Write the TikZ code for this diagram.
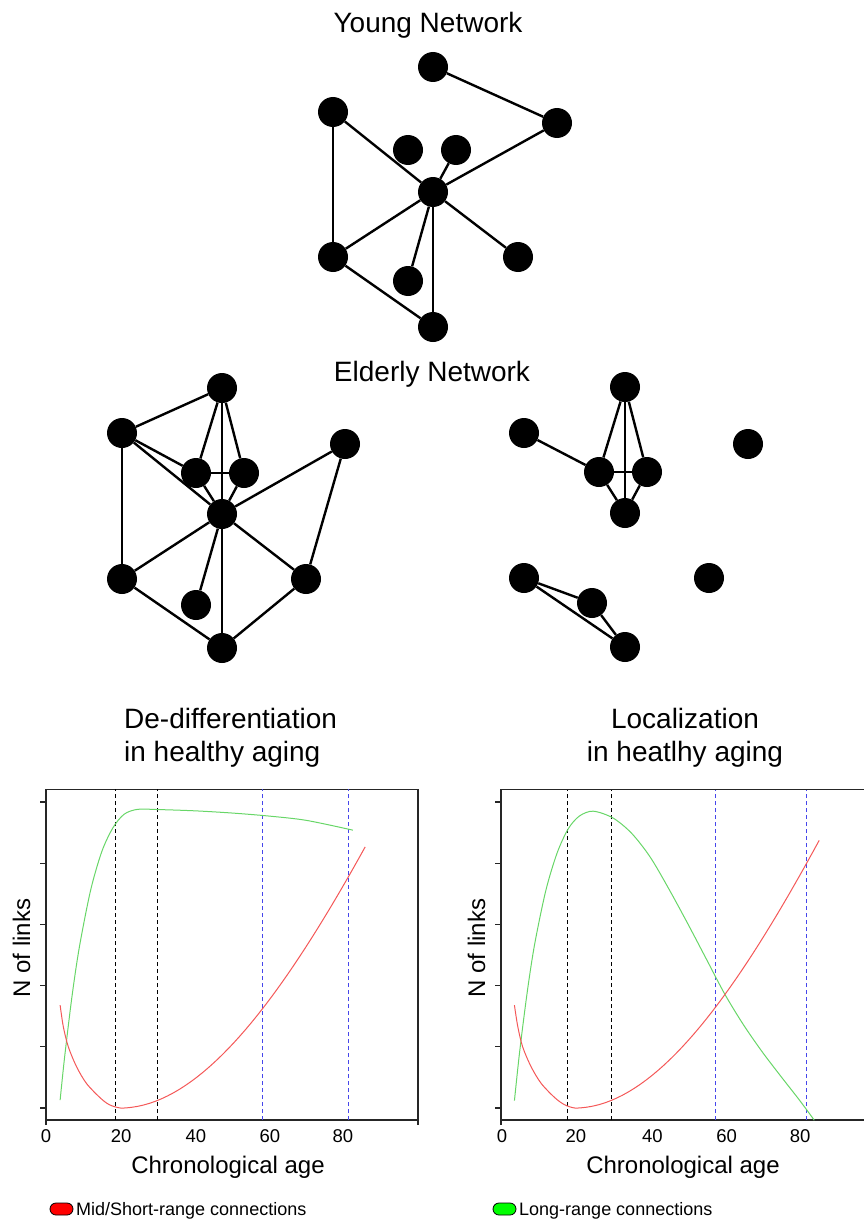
\documentclass[tikz,border=0pt]{standalone}
\usepackage{fontspec}
\setmainfont{Liberation Sans}
\usetikzlibrary{positioning}
\definecolor{shortred}{RGB}{244,88,88}
\definecolor{longgreen}{RGB}{104,214,104}
\definecolor{markblue}{RGB}{70,70,235}

\begin{document}
\begin{tikzpicture}[x=1pt,y=1pt]
\tikzstyle{every node}+=[inner sep=0pt]
\tikzstyle{vertex}=[circle,fill=black,minimum size=30pt]
\tikzstyle{edge}=[line width=2.4pt]
\tikzstyle{title}=[font=\fontsize{28}{33}\selectfont]
\tikzstyle{axislabel}=[font=\fontsize{24}{28}\selectfont]
\tikzstyle{ticklabel}=[font=\fontsize{18.5}{22}\selectfont]
\tikzstyle{keytext}=[font=\fontsize{18}{21}\selectfont]
\tikzstyle{frame}=[line width=1.3pt,black!85]
\tikzstyle{agemark}=[dash pattern=on 4pt off 3pt,line width=0.9pt]
\tikzstyle{shortrange}=[line width=1pt,shortred]
\tikzstyle{longrange}=[line width=1pt,longgreen]
\tikzstyle{pill}=[draw=black,line width=0.8pt,rounded corners=6pt,minimum width=23pt,minimum height=12pt]
\useasboundingbox (0,0) rectangle (864,-1220);

\node [title,anchor=base] (youngtitle) at (428,-33) {Young Network};
\node [vertex] (y1) at (433,-67) {};
\node [vertex] (y2) at (557,-123) {};
\node [vertex] (y3) at (333,-112) {};
\node [vertex] (y4) at (408,-150) {};
\node [vertex] (y5) at (456,-150) {};
\node [vertex] (y6) at (433,-192) {};
\node [vertex] (y7) at (333,-257) {};
\node [vertex] (y8) at (408,-281) {};
\node [vertex] (y9) at (518,-257) {};
\node [vertex] (y10) at (433,-327) {};
\draw [edge] (y1) -- (y2);
\draw [edge] (y2) -- (y6);
\draw [edge] (y3) -- (y6);
\draw [edge] (y3) -- (y7);
\draw [edge] (y5) -- (y6);
\draw [edge] (y6) -- (y7);
\draw [edge] (y6) -- (y8);
\draw [edge] (y6) -- (y9);
\draw [edge] (y6) -- (y10);
\draw [edge] (y7) -- (y10);

\node [title,anchor=base] (elderlytitle) at (432,-381) {Elderly Network};
\node [vertex] (e1) at (222,-388) {};
\node [vertex] (e2) at (122,-433) {};
\node [vertex] (e3) at (196,-473) {};
\node [vertex] (e4) at (244,-473) {};
\node [vertex] (e5) at (222,-514) {};
\node [vertex] (e6) at (345,-444) {};
\node [vertex] (e7) at (122,-579) {};
\node [vertex] (e8) at (196,-605) {};
\node [vertex] (e9) at (306,-579) {};
\node [vertex] (e10) at (222,-648) {};
\draw [edge] (e1) -- (e2);
\draw [edge] (e1) -- (e3);
\draw [edge] (e1) -- (e4);
\draw [edge] (e1) -- (e5);
\draw [edge] (e2) -- (e3);
\draw [edge] (e2) -- (e5);
\draw [edge] (e2) -- (e7);
\draw [edge] (e3) -- (e4);
\draw [edge] (e3) -- (e5);
\draw [edge] (e4) -- (e5);
\draw [edge] (e5) -- (e6);
\draw [edge] (e5) -- (e7);
\draw [edge] (e5) -- (e8);
\draw [edge] (e5) -- (e9);
\draw [edge] (e5) -- (e10);
\draw [edge] (e6) -- (e9);
\draw [edge] (e7) -- (e10);
\draw [edge] (e9) -- (e10);

\node [vertex] (l1) at (625,-387) {};
\node [vertex] (l2) at (524,-433) {};
\node [vertex] (l3) at (599,-472) {};
\node [vertex] (l4) at (647,-472) {};
\node [vertex] (l5) at (625,-513) {};
\node [vertex] (l6) at (748,-444) {};
\node [vertex] (l7) at (524,-578) {};
\node [vertex] (l8) at (592,-603) {};
\node [vertex] (l9) at (709,-578) {};
\node [vertex] (l10) at (625,-647) {};
\draw [edge] (l1) -- (l3);
\draw [edge] (l1) -- (l4);
\draw [edge] (l1) -- (l5);
\draw [edge] (l2) -- (l3);
\draw [edge] (l3) -- (l4);
\draw [edge] (l3) -- (l5);
\draw [edge] (l4) -- (l5);
\draw [edge] (l7) -- (l8);
\draw [edge] (l7) -- (l10);
\draw [edge] (l8) -- (l10);

\node [title,anchor=north west,align=left] (dedifftitle) at (124,-708) {De-differentiation\\in healthy aging};
\node [title,anchor=north,align=center] (localtitle) at (685,-708) {Localization\\in heatlhy aging};

% left panel: age 0..100 on x, links 0..5 on y
\begin{scope}[shift={(46,-1108)},x=3.72pt,y=61.2pt]
\draw [frame] (0,-0.28) -- (0,5.21) -- (100,5.21) -- (100,-0.28);
\draw [frame] (0,-0.196) -- (100,-0.196);
\draw [frame] (0,0) -- (-1.6,0);
\draw [frame] (0,1) -- (-1.6,1);
\draw [frame] (0,2) -- (-1.6,2);
\draw [frame] (0,3) -- (-1.6,3);
\draw [frame] (0,4) -- (-1.6,4);
\draw [frame] (0,5) -- (-1.6,5);
\draw [agemark,black] (18.6,-0.196) -- (18.6,5.21);
\draw [agemark,black] (30,-0.196) -- (30,5.21);
\draw [agemark,markblue] (58.3,-0.196) -- (58.3,5.21);
\draw [agemark,markblue] (81.3,-0.196) -- (81.3,5.21);
\draw [longrange] plot [smooth] coordinates {(3.8,0.13) (5,0.83) (7,1.83) (9,2.64) (12,3.56) (15,4.19) (18,4.58) (21,4.80) (24.6,4.88) (30,4.877) (40,4.856) (50,4.82) (60,4.77) (70,4.70) (82.5,4.54)};
% u = (age-20)/10 keeps the cubic inside pgfmath's range
\draw [shortrange] plot [smooth] coordinates {(3.8,1.68) (4.65,1.33) (6,1.0) (8.25,0.67) (10.9,0.40) (14.5,0.17) (17,0.055) (20,0) (23,0.0115)}
  -- plot [domain=23:85.8,samples=40] (\x,{((\x-20)/10)^2*(0.12865-0.004576*(\x-20)/10)});
\node [ticklabel,anchor=base] (lx0) at (0,-0.556) {0};
\node [ticklabel,anchor=base] (lx20) at (20.2,-0.556) {20};
\node [ticklabel,anchor=base] (lx40) at (40.3,-0.556) {40};
\node [ticklabel,anchor=base] (lx60) at (60.2,-0.556) {60};
\node [ticklabel,anchor=base] (lx80) at (79.8,-0.556) {80};
\end{scope}
\node [axislabel,anchor=base] (lxlabel) at (228,-1173) {Chronological age};
\node [axislabel,anchor=base,rotate=90] (lylabel) at (30,-948) {N of links};

% right panel, same axes
\begin{scope}[shift={(501,-1108)},x=3.73pt,y=61.2pt]
\draw [frame] (97.5,5.2) -- (0,5.2) -- (0,-0.28);
\draw [frame] (0,-0.196) -- (97.5,-0.196);
\draw [frame] (0,0) -- (-1.6,0);
\draw [frame] (0,1) -- (-1.6,1);
\draw [frame] (0,2) -- (-1.6,2);
\draw [frame] (0,3) -- (-1.6,3);
\draw [frame] (0,4) -- (-1.6,4);
\draw [frame] (0,5) -- (-1.6,5);
\draw [agemark,black] (17.7,-0.196) -- (17.7,5.2);
\draw [agemark,black] (29.5,-0.196) -- (29.5,5.2);
\draw [agemark,markblue] (57.6,-0.196) -- (57.6,5.2);
\draw [agemark,markblue] (81.8,-0.196) -- (81.8,5.2);
\draw [longrange] plot [smooth] coordinates {(3.6,0.12) (5,0.92) (7,1.88) (9,2.67) (12,3.55) (15,4.16) (18,4.56) (21,4.77) (24.7,4.85) (30,4.74) (35,4.49) (40,4.10) (45,3.58) (50,3.02) (55,2.44) (60,1.86) (65,1.36) (70,0.92) (75,0.52) (80,0.13) (84,-0.2)};
\draw [shortrange] plot [smooth] coordinates {(3.6,1.68) (4.5,1.33) (5.8,1.0) (8.1,0.67) (10.8,0.40) (14.4,0.17) (17,0.055) (19.8,0) (23,0.0136)}
  -- plot [domain=23:85.3,samples=40] (\x,{((\x-19.8)/10)^2*(0.1348-0.00502*(\x-19.8)/10)});
\node [ticklabel,anchor=base] (rx0) at (0.3,-0.556) {0};
\node [ticklabel,anchor=base] (rx20) at (20.1,-0.556) {20};
\node [ticklabel,anchor=base] (rx40) at (40.6,-0.556) {40};
\node [ticklabel,anchor=base] (rx60) at (60.5,-0.556) {60};
\node [ticklabel,anchor=base] (rx80) at (80.2,-0.556) {80};
\end{scope}
\node [axislabel,anchor=base] (rxlabel) at (683,-1173) {Chronological age};
\node [axislabel,anchor=base,rotate=90] (rylabel) at (485,-948) {N of links};

\node [pill,fill=red] (shortkey) at (61.5,-1209) {};
\node [keytext,anchor=base west] (shorttext) at (76,-1215) {Mid/Short-range connections};
\node [pill,fill=green] (longkey) at (504.5,-1209) {};
\node [keytext,anchor=base west] (longtext) at (519,-1215) {Long-range connections};
\end{tikzpicture}
\end{document}
